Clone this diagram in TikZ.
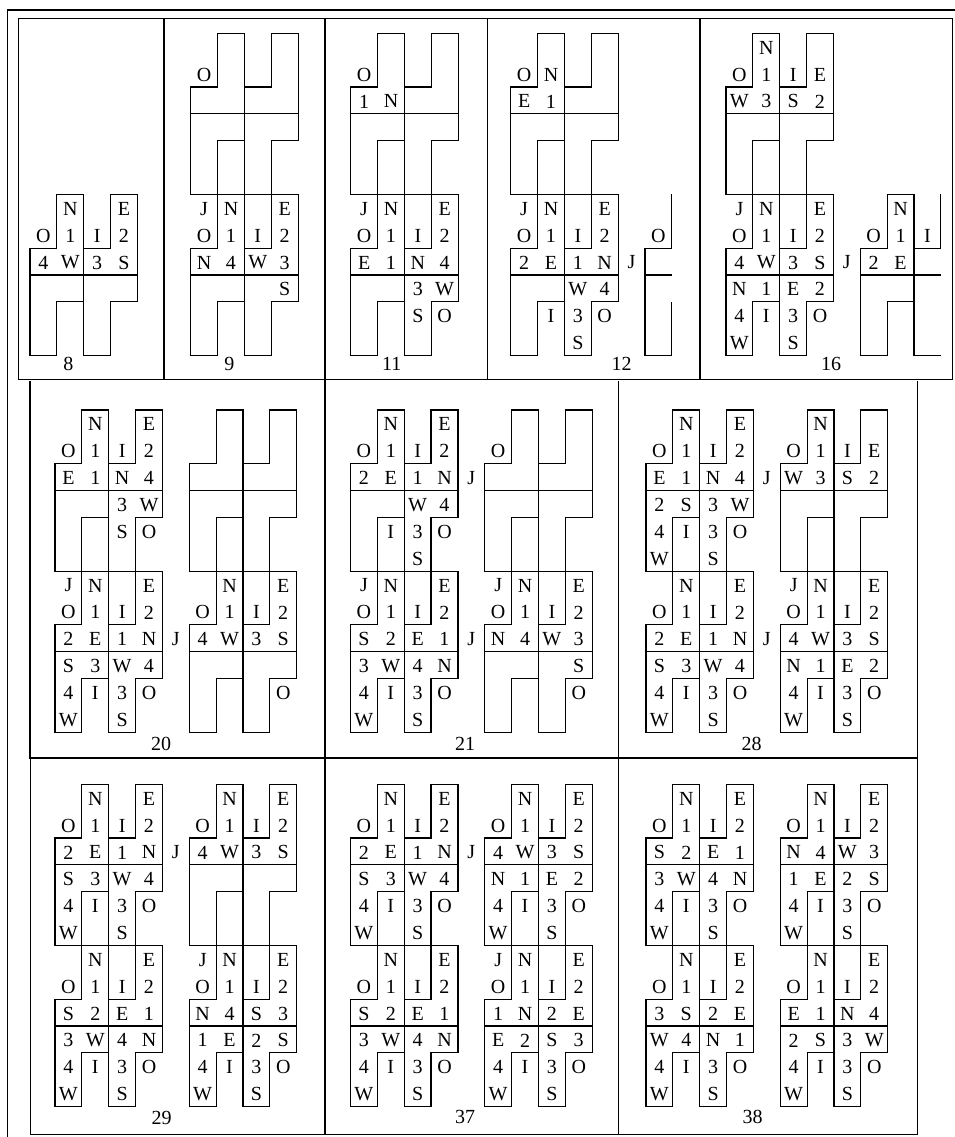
\documentclass[tikz,border=0pt]{standalone}
\usepackage{fontspec}
\setmainfont{Liberation Serif}
\def\cs{26.85pt}
\newcommand\Hshape{%
  \draw[fig] (1,0)--(2,0)--(2,4)--(1,4)--(1,6)--(0,6)--(0,2)--(1,2)--cycle;
  \draw[fig] (3,0)--(4,0)--(4,4)--(3,4)--(3,6)--(2,6)--(2,2)--(3,2)--cycle;
  \draw[fig] (0,3)--(4,3);}
\newcommand\R[5]{%
  \node[lab] at (0.5,#1+0.5) {#2};
  \node[lab] at (1.5,#1+0.5) {#3};
  \node[lab] at (2.5,#1+0.5) {#4};
  \node[lab] at (3.5,#1+0.5) {#5};}
\newcommand\TopR{\R{0}{}{N}{}{E}\R{1}{O}{1}{I}{2}}
\newcommand\BotR{\R{4}{4}{I}{3}{O}\R{5}{W}{}{S}{}}
\newcommand\Jlab{\node[lab] at (4.5,2.5) {J};}
\begin{document}
\begin{tikzpicture}[x=1pt,y=-1pt,
  fig/.style={line width=1.2pt},
  frm/.style={line width=1.3pt},
  lab/.style={font=\fontsize{20}{24}\selectfont, inner sep=0pt, anchor=center, yshift=-1pt},
  cellunit/.style={x=\cs,y=-\cs}]
\useasboundingbox (0,0) rectangle (955,1137);
% frame
\draw[frm] (7.3,1137) -- (7.3,10) -- (955,10);
\draw[frm] (18.3,18.3) rectangle (952.7,379.3);
\foreach \x in {164,325,487.3,700} \draw[frm] (\x,18.3) -- (\x,379.3);
\draw[frm] (30,381) -- (30,758) -- (917.5,758) -- (917.5,381);
\draw[frm] (325,379.3) -- (325,1134.5);
\draw[frm] (618.5,381) -- (618.5,1134.5);
\draw[frm] (30.5,758) -- (30.5,1134.5) -- (917.5,1134.5) -- (917.5,758);
% ---------- row 1 ----------
% panel 8
\begin{scope}[shift={(30,33.3)},cellunit]
  \begin{scope}[shift={(0,6)}]\Hshape \TopR \R{2}{4}{W}{3}{S}\end{scope}
\end{scope}
\node[lab] at (68.3,363.3) {8};
% panel 9
\begin{scope}[shift={(190.7,33.3)},cellunit]
  \Hshape \R{1}{O}{}{}{}
  \begin{scope}[shift={(0,6)}]\Hshape \R{0}{J}{N}{}{E}\R{1}{O}{1}{I}{2}\R{2}{N}{4}{W}{3}\R{3}{}{}{}{S}\end{scope}
\end{scope}
\node[lab] at (229.3,363.3) {9};
% panel 11
\begin{scope}[shift={(350.7,33.3)},cellunit]
  \Hshape \R{1}{O}{}{}{}\R{2}{1}{N}{}{}
  \begin{scope}[shift={(0,6)}]\Hshape \R{0}{J}{N}{}{E}\R{1}{O}{1}{I}{2}\R{2}{E}{1}{N}{4}\R{3}{}{}{3}{W}\R{4}{}{}{S}{O}\end{scope}
\end{scope}
\node[lab] at (391.7,363.3) {11};
% panel 12
\begin{scope}[shift={(510.7,33.3)},cellunit]
  \Hshape \R{1}{O}{N}{}{}\R{2}{E}{1}{}{}
  \begin{scope}[shift={(0,6)}]\Hshape \R{0}{J}{N}{}{E}\R{1}{O}{1}{I}{2}\R{2}{2}{E}{1}{N}\R{3}{}{}{W}{4}\R{4}{}{I}{3}{O}\R{5}{}{}{S}{}\Jlab\end{scope}
  \begin{scope}[shift={(5,6)}]
    \draw[fig] (1,0)--(1,2)--(0,2)--(0,6)--(1,6)--(1,4);
    \draw[fig] (0,3)--(1,3);
    \R{1}{O}{}{}{}
  \end{scope}
\end{scope}
\node[lab] at (621.7,363.3) {12};
% panel 16
\begin{scope}[shift={(726,33.3)},cellunit]
  \Hshape \R{0}{}{N}{}{}\R{1}{O}{1}{I}{E}\R{2}{W}{3}{S}{2}
  \begin{scope}[shift={(0,6)}]\Hshape \R{0}{J}{N}{}{E}\R{1}{O}{1}{I}{2}\R{2}{4}{W}{3}{S}\R{3}{N}{1}{E}{2}\BotR\Jlab\end{scope}
  \begin{scope}[shift={(5,6)}]
    \draw[fig] (1,0)--(2,0)--(2,4)--(1,4)--(1,6)--(0,6)--(0,2)--(1,2)--cycle;
    \draw[fig] (2,4)--(2,6)--(3,6);
    \draw[fig] (3,0)--(3,2)--(2,2);
    \draw[fig] (0,3)--(3,3);
    \R{0}{}{N}{}{}\R{1}{O}{1}{I}{}\R{2}{2}{E}{}{}
  \end{scope}
\end{scope}
\node[lab] at (831,363.3) {16};
% ---------- row 2 ----------
% panel 20
\begin{scope}[shift={(55,410)},cellunit]
  \Hshape \TopR\R{2}{E}{1}{N}{4}\R{3}{}{}{3}{W}\R{4}{}{}{S}{O}
  \begin{scope}[shift={(5,0)}]\Hshape\end{scope}
  \begin{scope}[shift={(0,6)}]\Hshape \R{0}{J}{N}{}{E}\R{1}{O}{1}{I}{2}\R{2}{2}{E}{1}{N}\R{3}{S}{3}{W}{4}\BotR\Jlab\end{scope}
  \begin{scope}[shift={(5,6)}]\Hshape \TopR\R{2}{4}{W}{3}{S}\R{4}{}{}{}{O}\end{scope}
\end{scope}
\node[lab] at (161,743) {20};
% panel 21
\begin{scope}[shift={(350.5,410)},cellunit]
  \Hshape \TopR\R{2}{2}{E}{1}{N}\R{3}{}{}{W}{4}\R{4}{}{I}{3}{O}\R{5}{}{}{S}{}\Jlab
  \begin{scope}[shift={(5,0)}]\Hshape \R{1}{O}{}{}{}\end{scope}
  \begin{scope}[shift={(0,6)}]\Hshape \R{0}{J}{N}{}{E}\R{1}{O}{1}{I}{2}\R{2}{S}{2}{E}{1}\R{3}{3}{W}{4}{N}\BotR\Jlab\end{scope}
  \begin{scope}[shift={(5,6)}]\Hshape \R{0}{J}{N}{}{E}\R{1}{O}{1}{I}{2}\R{2}{N}{4}{W}{3}\R{3}{}{}{}{S}\R{4}{}{}{}{O}\end{scope}
\end{scope}
\node[lab] at (465,743) {21};
% panel 28
\begin{scope}[shift={(646,410)},cellunit]
  \Hshape \TopR\R{2}{E}{1}{N}{4}\R{3}{2}{S}{3}{W}\BotR\Jlab
  \begin{scope}[shift={(5,0)}]\Hshape \R{0}{}{N}{}{}\R{1}{O}{1}{I}{E}\R{2}{W}{3}{S}{2}\end{scope}
  \begin{scope}[shift={(0,6)}]\Hshape \TopR\R{2}{2}{E}{1}{N}\R{3}{S}{3}{W}{4}\BotR\Jlab\end{scope}
  \begin{scope}[shift={(5,6)}]\Hshape \R{0}{J}{N}{}{E}\R{1}{O}{1}{I}{2}\R{2}{4}{W}{3}{S}\R{3}{N}{1}{E}{2}\BotR\end{scope}
\end{scope}
\node[lab] at (751.7,743) {28};
% ---------- row 3 ----------
% panel 29
\begin{scope}[shift={(55,784.3)},cellunit]
  \Hshape \TopR\R{2}{2}{E}{1}{N}\R{3}{S}{3}{W}{4}\BotR\Jlab
  \begin{scope}[shift={(5,0)}]\Hshape \TopR\R{2}{4}{W}{3}{S}\end{scope}
  \begin{scope}[shift={(0,6)}]\Hshape \TopR\R{2}{S}{2}{E}{1}\R{3}{3}{W}{4}{N}\BotR\end{scope}
  \begin{scope}[shift={(5,6)}]\Hshape \R{0}{J}{N}{}{E}\R{1}{O}{1}{I}{2}\R{2}{N}{4}{S}{3}\R{3}{1}{E}{2}{S}\BotR\end{scope}
\end{scope}
\node[lab] at (161.7,1116.7) {29};
% panel 37
\begin{scope}[shift={(350.5,784.3)},cellunit]
  \Hshape \TopR\R{2}{2}{E}{1}{N}\R{3}{S}{3}{W}{4}\BotR\Jlab
  \begin{scope}[shift={(5,0)}]\Hshape \TopR\R{2}{4}{W}{3}{S}\R{3}{N}{1}{E}{2}\BotR\end{scope}
  \begin{scope}[shift={(0,6)}]\Hshape \TopR\R{2}{S}{2}{E}{1}\R{3}{3}{W}{4}{N}\BotR\end{scope}
  \begin{scope}[shift={(5,6)}]\Hshape \R{0}{J}{N}{}{E}\R{1}{O}{1}{I}{2}\R{2}{1}{N}{2}{E}\R{3}{E}{2}{S}{3}\BotR\end{scope}
\end{scope}
\node[lab] at (465,1115.5) {37};
% panel 38
\begin{scope}[shift={(646,784.3)},cellunit]
  \Hshape \TopR\R{2}{S}{2}{E}{1}\R{3}{3}{W}{4}{N}\BotR
  \begin{scope}[shift={(5,0)}]\Hshape \TopR\R{2}{N}{4}{W}{3}\R{3}{1}{E}{2}{S}\BotR\end{scope}
  \begin{scope}[shift={(0,6)}]\Hshape \TopR\R{2}{3}{S}{2}{E}\R{3}{W}{4}{N}{1}\BotR\end{scope}
  \begin{scope}[shift={(5,6)}]\Hshape \TopR\R{2}{E}{1}{N}{4}\R{3}{2}{S}{3}{W}\BotR\end{scope}
\end{scope}
\node[lab] at (752.7,1116.3) {38};
\end{tikzpicture}
\end{document}
